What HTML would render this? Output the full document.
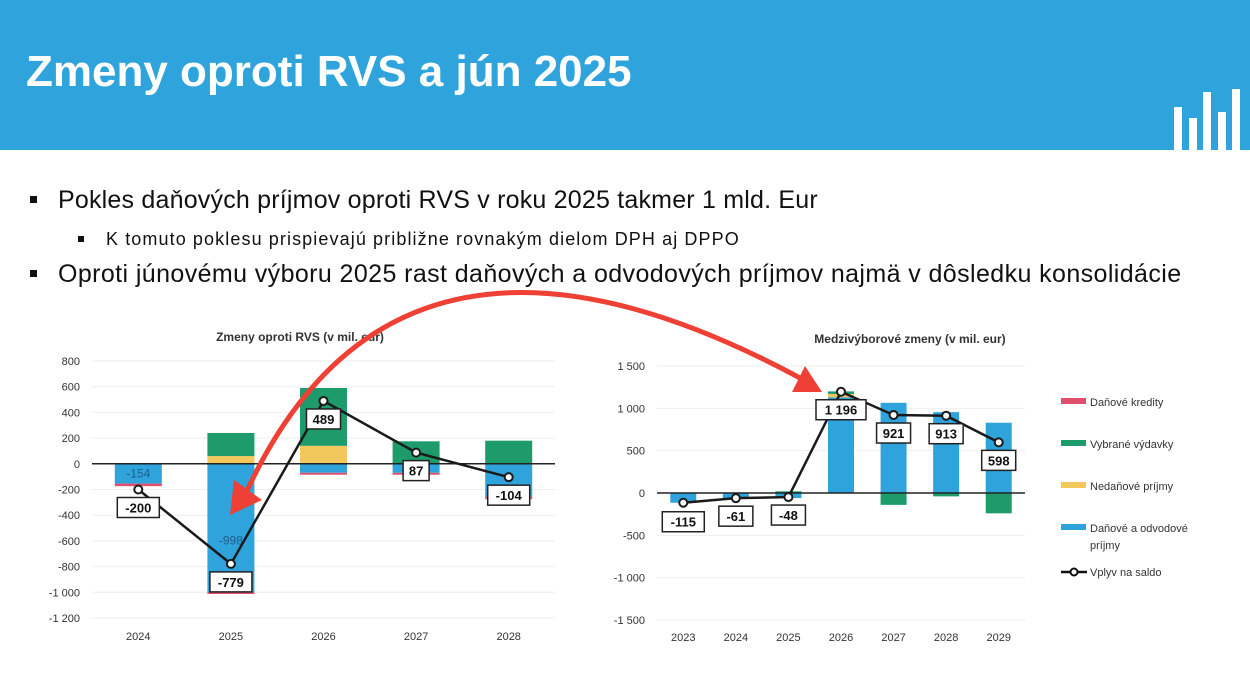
<!DOCTYPE html>
<html><head><meta charset="utf-8">
<style>
body{margin:0;width:1250px;height:680px;overflow:hidden;background:#fff;font-family:"Liberation Sans",sans-serif;position:relative}
.hdr{position:absolute;left:0;top:0;width:1250px;height:150px;background:#2ea3dc}
.ttl{position:absolute;left:26px;top:47px;color:#fff;font-weight:bold;font-size:44px}
.b{position:absolute;color:#111;white-space:nowrap}
.b1{font-size:25px}
.b2{font-size:18px;letter-spacing:1.1px}
.sq{position:absolute;background:#111}
svg{position:absolute;left:0;top:0}
</style></head><body>
<div class="hdr"></div>
<div class="ttl">Zmeny oproti RVS a jún 2025</div>
<div>
<div style="position:absolute;left:1174px;top:107px;width:8px;height:43px;background:#fff"></div>
<div style="position:absolute;left:1189px;top:118px;width:8px;height:32px;background:#fff"></div>
<div style="position:absolute;left:1203px;top:92px;width:8px;height:58px;background:#fff"></div>
<div style="position:absolute;left:1218px;top:112px;width:8px;height:38px;background:#fff"></div>
<div style="position:absolute;left:1232px;top:89px;width:8px;height:61px;background:#fff"></div>
</div>
<div class="sq" style="left:30px;top:196px;width:7px;height:7px"></div>
<div class="b b1" style="left:58px;top:186px;letter-spacing:0.2px">Pokles daňových príjmov oproti RVS v roku 2025 takmer 1 mld. Eur</div>
<div class="sq" style="left:78px;top:236px;width:6px;height:6px"></div>
<div class="b b2" style="left:106px;top:229px">K tomuto poklesu prispievajú približne rovnakým dielom DPH aj DPPO</div>
<div class="sq" style="left:30px;top:270px;width:7px;height:7px"></div>
<div class="b b1" style="left:58px;top:260px;letter-spacing:0.4px">Oproti júnovému výboru 2025 rast daňových a odvodových príjmov najmä v dôsledku konsolidácie</div>

<svg id="s" width="1250" height="680" xmlns="http://www.w3.org/2000/svg" font-family="Liberation Sans, sans-serif"></svg>
<script>
// Left chart data
const catsL=['2024','2025','2026','2027','2028'];
const blueL=[-154,-998,-70,-70,-255];
const redL=[-20,-15,-15,-15,-20];
const yellowL=[0,60,140,0,0];
const greenL=[0,180,450,175,180];
const saldoL=[-200,-779,489,87,-104];
const ticksL=[800,600,400,200,0,-200,-400,-600,-800,-1000,-1200];
// Right chart data
const catsR=['2023','2024','2025','2026','2027','2028','2029'];
const blueR=[-115,-61,-60,1130,1065,955,830];
const redR=[0,0,0,0,0,0,0];
const yellowR=[0,0,0,40,0,0,0];
const greenR=[0,0,20,30,-140,-40,-240];
const saldoR=[-115,-61,-48,1196,921,913,598];
const ticksR=[1500,1000,500,0,-500,-1000,-1500];

const C={blue:'#2ea3dc',red:'#e0506e',yellow:'#f2c75c',green:'#1e9b6b'};
const svg=document.getElementById('s');
const NS='http://www.w3.org/2000/svg';
function mk(t,a,p){const e=document.createElementNS(NS,t);for(const k in a)e.setAttribute(k,a[k]);(p||svg).appendChild(e);return e;}
function fmt(v){const s=Math.abs(v).toString().replace(/\B(?=(\d{3})+(?!\d))/g,'\u00a0');return (v<0?'-':'')+s;}

function chart(o){
  const g=mk('g',{});
  
  
  const y=v=>o.y0+(v-o.vmax)*(o.y1-o.y0)/(o.vmin-o.vmax);
  const x=i=>o.x0+(i+0.5)*(o.x1-o.x0)/o.cats.length;
  const t=mk('text',{x:o.tx,y:o.ty,'text-anchor':'middle','font-size':12,'font-weight':'bold',fill:'#333'},g);t.textContent=o.title;
  
  o.ticks.forEach(v=>{
    if(v!==0){const l=mk('line',{x1:o.x0,x2:o.x1,y1:y(v),y2:y(v),stroke:'#eee','stroke-width':1},g);}
    const tl=mk('text',{x:o.x0-12,y:y(v)+4,'text-anchor':'end','font-size':11,fill:'#333'},g);tl.textContent=fmt(v);
    
  });
  o.cats.forEach((c,i)=>{
    const cx=x(i);
    const pos=[[o.yellow[i],C.yellow],[o.green[i],C.green]];
    const neg=[[o.blue[i],C.blue],[o.red[i],C.red]];
    let top=0,bot=0;
    [...neg,...pos].forEach(([v,col])=>{
      if(!v)return;
      let a,b;
      if(v>0){a=top;b=top+v;top=b;}else{a=bot;b=bot+v;bot=b;}
      const r=mk('rect',{x:cx-o.bw/2,y:Math.min(y(a),y(b)),width:o.bw,height:Math.abs(y(a)-y(b)),fill:col},g);
      
    });
    const xl=mk('text',{x:cx,y:o.xly,'text-anchor':'middle','font-size':11,fill:'#333'},g);xl.textContent=c;
    
  });
  const z=mk('line',{x1:o.x0,x2:o.x1,y1:y(0),y2:y(0),stroke:'#222','stroke-width':1.5},g);
  
  if(o.inner){o.inner.forEach(([i,v])=>{const tt=mk('text',{x:x(i),y:y(v/2>-100?v/2:v*0.6)+4,'text-anchor':'middle','font-size':12,fill:'#1f5f8a'},g);tt.textContent=fmt(v);
    });}
  const pl=mk('polyline',{points:o.saldo.map((v,i)=>x(i)+','+y(v)).join(' '),fill:'none',stroke:'#1a1a1a','stroke-width':2.5},g);
  
  o.saldo.forEach((v,i)=>{
    const c=mk('circle',{cx:x(i),cy:y(v),r:4,fill:'#fff',stroke:'#1a1a1a','stroke-width':2},g);
    
    const s=fmt(v),w=s.length*8+10,ly=y(v)+o.lo[i];
    const bx=mk('rect',{x:x(i)-w/2,y:ly-10,width:w,height:20,fill:'#fff',stroke:'#222','stroke-width':1.5},g);
    
    const tx=mk('text',{x:x(i),y:ly+5,'text-anchor':'middle','font-size':13,'font-weight':'bold',fill:'#111'},g);tx.textContent=s;
    
  });
}
chart({name:'chart-zmeny-rvs',title:'Zmeny oproti RVS (v mil. eur)',tx:300,ty:341,x0:92,x1:555,y0:361,y1:618,vmax:800,vmin:-1200,
  cats:catsL,blue:blueL,red:redL,yellow:yellowL,green:greenL,saldo:saldoL,ticks:ticksL,bw:47,xly:640,lo:[18,18,18,18,18],inner:[[0,-154],[1,-998]]});
chart({name:'chart-medzivyborove',title:'Medzivýborové zmeny (v mil. eur)',tx:910,ty:343,x0:657,x1:1025,y0:366,y1:620,vmax:1500,vmin:-1500,
  cats:catsR,blue:blueR,red:redR,yellow:yellowR,green:greenR,saldo:saldoR,ticks:ticksR,bw:26,xly:641,lo:[19,18,18,18,18,18,18]});
const lg=mk('g',{});


[['Daňové kredity',C.red,402],['Vybrané výdavky',C.green,444],['Nedaňové príjmy',C.yellow,486],['Daňové a odvodové',C.blue,528]].forEach(([t,c,yy])=>{
  const r=mk('rect',{x:1061,y:yy-4,width:25,height:6,fill:c},lg);
  
  const tx=mk('text',{x:1090,y:yy+4,'font-size':11,fill:'#333'},lg);tx.textContent=t;
  
});
const t2=mk('text',{x:1090,y:549,'font-size':11,fill:'#333'},lg);t2.textContent='príjmy';

mk('line',{x1:1061,x2:1087,y1:572,y2:572,stroke:'#111','stroke-width':2.5},lg);
mk('circle',{cx:1074,cy:572,r:3.5,fill:'#fff',stroke:'#111','stroke-width':2},lg);
const t3=mk('text',{x:1090,y:576,'font-size':11,fill:'#333'},lg);t3.textContent='Vplyv na saldo';

const ar=mk('g',{});


mk('path',{d:'M245,495 C320,330 470,200 800,378',fill:'none',stroke:'#ee4034','stroke-width':5,'stroke-linecap':'round'},ar);
mk('polygon',{points:'230,515 234,480 262,500',fill:'#ee4034'},ar);
mk('polygon',{points:'822,392 792,392 805,366',fill:'#ee4034'},ar);
</script>
</body></html>
